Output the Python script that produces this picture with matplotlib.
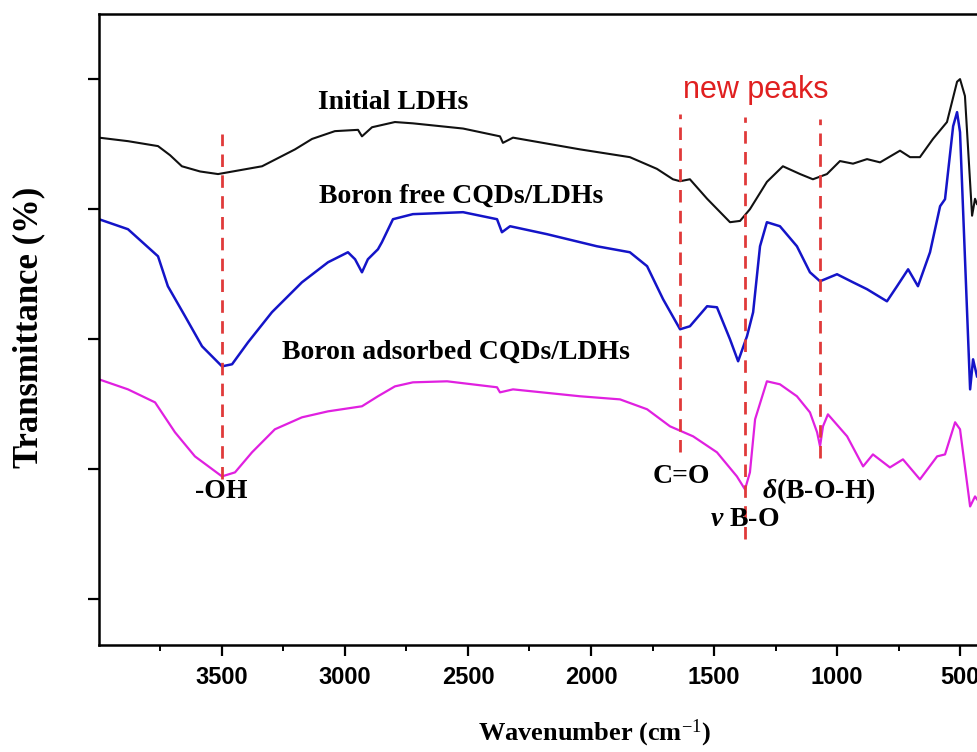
import numpy as np
import matplotlib
matplotlib.use("Agg")
import matplotlib.pyplot as plt

plt.rcParams["mathtext.fontset"] = "custom"
plt.rcParams["mathtext.rm"] = "Liberation Serif"
plt.rcParams["mathtext.it"] = "Liberation Serif:italic:bold"
plt.rcParams["mathtext.bf"] = "Liberation Serif:bold"

# wavenumber (cm-1) and relative transmittance (offset units)
wn_init = [4000, 3882, 3760, 3711, 3663, 3589, 3516, 3337, 3203, 3134, 3041, 2947, 2931, 2890, 2797,
           2724, 2520, 2370, 2358, 2317, 2045, 1842, 1732, 1667, 1638, 1598, 1528, 1435,
           1394, 1354, 1285, 1220, 1150, 1098, 1041, 988, 935, 878, 825, 744, 703, 663,
           610, 553, 512, 500, 480, 451, 439, 431]
t_init = [355, 352.3, 348.5, 341.5, 333, 329, 327, 333, 346, 354, 360, 361, 356, 363, 367,
          366, 362, 356, 351, 355, 346, 340, 331, 323, 321.5, 323, 308, 290,
          291, 300, 321, 333, 327, 323, 327, 337, 335, 338.5, 336, 345, 340, 340,
          354, 367, 398, 400, 387, 295, 308, 304]

wn_free = [4000, 3882, 3760, 3720, 3650, 3581, 3500, 3459, 3394, 3297, 3175, 3069, 2988,
           2959, 2931, 2907, 2866, 2850, 2805, 2724, 2520, 2382, 2362, 2329, 2179, 1976,
           1842, 1772, 1707, 1638, 1598, 1528, 1488, 1435, 1402, 1366, 1341, 1313, 1285,
           1232, 1163, 1110, 1069, 1000, 935, 878, 797, 756, 711, 671, 622, 581, 561,
           528, 512, 500, 459, 447, 431]
t_free = [292.3, 284.6, 263.8, 240.8, 217.7, 194.6, 179.2, 180.8, 197.7, 220.8, 243.8, 259.2, 266.9,
          261.5, 251.5, 261.5, 269.2, 274.6, 292.3, 296.2, 297.7, 292.3, 282.3, 286.9, 280.8, 271.5,
          266.9, 256.2, 230.8, 207.7, 210, 225.4, 224.6, 200, 183.1, 202.3, 220.8, 271.5, 290,
          286.9, 271.5, 251.5, 244.6, 250, 243.8, 238.5, 229.2, 240.8, 253.8, 240.8, 266.9, 302.3, 307.7,
          363.8, 374.6, 359.2, 161.5, 184.6, 171.5]

wn_ads = [4000, 3882, 3772, 3691, 3610, 3500, 3447, 3378, 3285, 3175, 3069, 2931, 2866,
          2797, 2724, 2585, 2382, 2370, 2317, 2045, 1882, 1772, 1679, 1585, 1488, 1407,
          1374, 1354, 1333, 1285, 1232, 1163, 1110, 1081, 1069, 1057, 1037, 959, 894,
          854, 785, 732, 663, 593, 561, 520, 500, 459, 439, 431]
t_ads = [169.2, 161.5, 151.5, 128.5, 110, 94.6, 97.7, 113.1, 130.8, 140, 144.6, 148.5, 156.2,
         163.8, 166.9, 167.7, 163.1, 159.2, 161.5, 156.2, 153.8, 146.2, 133.1, 125.4, 113.1, 94.6,
         84.6, 97.7, 138.5, 167.7, 165.4, 156.2, 143.8, 128.5, 117.7, 133.1, 142.3, 125.4, 102.3,
         111.5, 101.5, 107.7, 92.3, 110, 111.5, 136.2, 130.8, 71.5, 79.2, 77]

# marker lines: position, top, bottom
peak_wn = [3500, 1638, 1374, 1069]
peak_top = [357.7, 373, 370.8, 369]
peak_bot = [92.3, 113, 46.2, 109]

serif = ["Liberation Serif", "DejaVu Serif"]

fig = plt.figure(figsize=(9.77, 7.52), dpi=100)
ax = fig.add_axes([0.1013, 0.1423, 0.8987, 0.8390])

ax.plot(wn_init, t_init, color="#111111", lw=1.5)
ax.plot(wn_free, t_free, color="#1414c8", lw=1.8)
ax.plot(wn_ads, t_ads, color="#e020e0", lw=1.6)

for w, t0, t1 in zip(peak_wn, peak_top, peak_bot):
    ax.plot([w, w], [t1, t0], color="#e03a3a", lw=2.0, dashes=(4.5, 3))

ax.set_xlim(4000, 431)
ax.set_ylim(-35, 450)
ax.set_xticks([3500, 3000, 2500, 2000, 1500, 1000, 500])
ax.set_xticks([3750, 3250, 2750, 2250, 1750, 1250, 750], minor=True)
ax.set_yticks([0, 100, 200, 300, 400])
ax.set_yticklabels([])
ax.tick_params(axis="both", which="major", direction="out", length=8, width=1.6)
ax.tick_params(axis="x", which="minor", direction="out", length=4.5, width=1.4)
ax.tick_params(axis="x", pad=7)
for lab in ax.get_xticklabels():
    lab.set_fontfamily(["Liberation Sans", "DejaVu Sans"])
    lab.set_fontweight("bold")
    lab.set_fontsize(17)
for s in ["left", "bottom", "top"]:
    ax.spines[s].set_linewidth(1.8)
ax.spines["right"].set_visible(False)

fig.text(0.608, 0.025, "Wavenumber (cm$^{-1}$)", family=serif, fontweight="bold",
         fontsize=19, ha="center", va="center")
fig.text(0.029, 0.565, "Transmittance (%)", family=serif, fontweight="bold", fontsize=25,
         rotation=90, ha="center", va="center")

kw = dict(family=serif, fontweight="bold", fontsize=20, ha="center", va="center")
ax.text(2805, 382, "Initial LDHs", **kw)
ax.text(2528, 310, "Boron free CQDs/LDHs", **kw)
ax.text(2549, 190, "Boron adsorbed CQDs/LDHs", **kw)
ax.text(3504, 83, "-OH", **kw)
ax.text(1634, 94.6, "C=O", **kw)
ax.text(1073, 83, "$\\delta$(B-O-H)", **kw)
ax.text(1374, 61.5, "$\\nu$ B-O", **kw)
ax.text(1329, 392, "new peaks", family=["Liberation Sans", "DejaVu Sans"], color="#e02020",
        fontsize=22, ha="center", va="center")

fig.savefig("out.png", dpi=100)
